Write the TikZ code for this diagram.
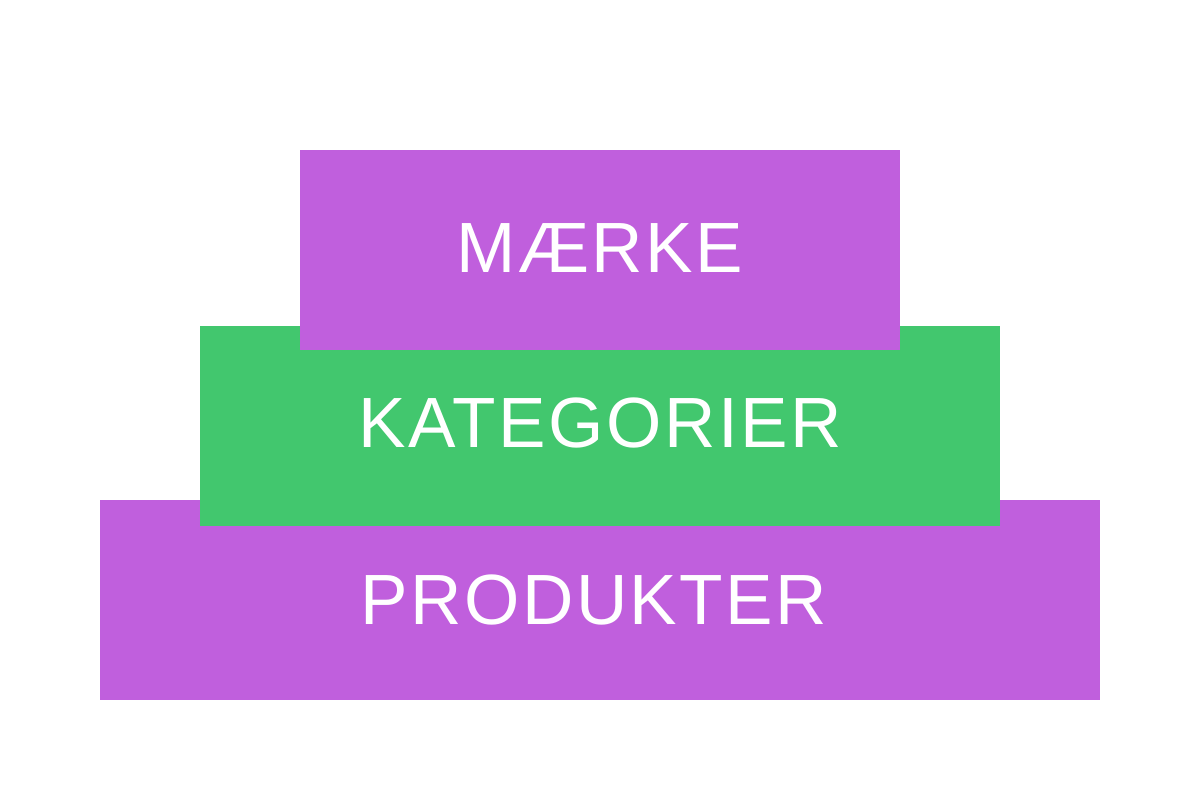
\documentclass[tikz,border=0pt]{standalone}
\usepackage{fontspec}
\setmainfont{Liberation Sans}[LetterSpace=3.5]
\definecolor{lilla}{RGB}{192,95,221}
\definecolor{groen}{RGB}{66,199,110}
\begin{document}
\begin{tikzpicture}[x=0.02cm, y=-0.02cm, every node/.style={inner sep=0pt, anchor=base, text=white, font=\fontsize{40.5}{40.5}\selectfont}]
\useasboundingbox (0,0) rectangle (1200,800);

\coordinate (P1) at (100,500);
\coordinate (P2) at (1100,700);
\coordinate (K1) at (200,326);
\coordinate (K2) at (1000,526);
\coordinate (M1) at (300,150);
\coordinate (M2) at (900,350);

\fill[lilla] (P1) rectangle (P2);
\fill[groen] (K1) rectangle (K2);
\fill[lilla] (M1) rectangle (M2);

\node (produkter) at (594,624) {PRODUKTER};
\node (kategorier) at (600,447) {KATEGORIER};
\node (maerke) at (600,273) {MÆRKE};

\end{tikzpicture}
\end{document}
